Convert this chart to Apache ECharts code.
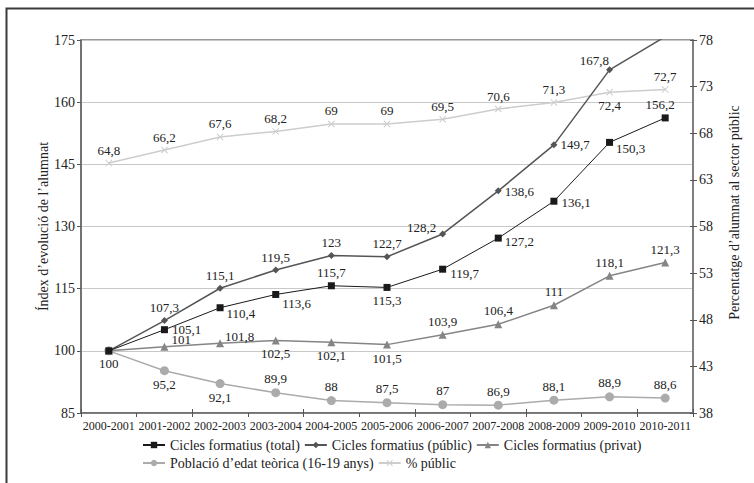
<!DOCTYPE html>
<html>
<head>
<meta charset="utf-8">
<script src="https://cdn.jsdelivr.net/npm/echarts@6/dist/echarts.min.js"></script>
<style>html,body{margin:0;padding:0;background:#fff;font-family:"Liberation Serif",serif;}#c{width:754px;height:483px;}</style>
</head>
<body>
<div id="c"></div>
<script>
const categories = ['2000-2001','2001-2002','2002-2003','2003-2004','2004-2005','2005-2006','2006-2007','2007-2008','2008-2009','2009-2010','2010-2011'];
const ciclesTotal   = [100, 105.1, 110.4, 113.6, 115.7, 115.3, 119.7, 127.2, 136.1, 150.3, 156.2];
const ciclesPublic  = [100, 107.3, 115.1, 119.5, 123, 122.7, 128.2, 138.6, 149.7, 167.8, 175.8];
const ciclesPrivat  = [100, 101, 101.8, 102.5, 102.1, 101.5, 103.9, 106.4, 111, 118.1, 121.3];
const poblacio      = [100, 95.2, 92.1, 89.9, 88, 87.5, 87, 86.9, 88.1, 88.9, 88.6];
const pctPublic     = [64.8, 66.2, 67.6, 68.2, 69, 69, 69.5, 70.6, 71.3, 72.4, 72.7];
const leftTicks  = {min: 85, max: 175, step: 15};
const rightTicks = {min: 38, max: 78, step: 5};

// label placement (styling, separate from data)
const lblTotal = [['bottom',0,0],['right',1,0],['right',0,6],['right',0,9],['top',0,0],['bottom',0,0],['right',1,4],['right',0,3],['right',1,1],['right',0,6],['top',-5,0]];
const lblPublic = [null,['top',0,0],['top',0,0],['top',0,0],['top',0,0],['top',0,0],['left',0,-6],['right',0,1],['right',0,0],['left',6,-9],null];
const lblPrivat = [null,['right',0,-7],['right',-2,-7],['bottom',0,0],['bottom',0,0],['bottom',0,0],['top',0,0],['top',0,0],['top',0,0],['top',0,0],['top',0,0]];
const lblPobl = [null,['bottom',0,0],['bottom',0,0],['top',0,0],['top',0,0],['top',0,0],['top',0,0],['top',0,0],['top',0,0],['top',0,0],['top',0,0]];
const lblPct = [['top',0,0],['top',0,0],['top',0,0],['top',0,0],['top',0,0],['top',0,0],['top',0,0],['top',0,0],['top',0,0],['bottom',0,0],['top',0,0]];

const FONT = 'Liberation Serif';
const fmt = v => String(v).replace('.', ',');

function mk(values, cfg) {
  return values.map((v, i) => {
    const c = cfg[i];
    if (!c) return {value: v, label: {show: false}};
    return {value: v, label: {show: true, position: c[0], offset: [c[1], c[2]]}};
  });
}

const labelBase = {show: true, fontFamily: FONT, fontSize: 13, color: '#222', distance: 3, formatter: p => fmt(p.value)};

function line(name, values, cfg, color, symbol, size, width, yIdx, z) {
  return {
    name, type: 'line', data: mk(values, cfg), yAxisIndex: yIdx, z,
    symbol, symbolSize: size, showSymbol: true,
    lineStyle: {color, width},
    itemStyle: {color, borderWidth: 0},
    label: labelBase,
    emphasis: {disabled: true},
    animation: false, clip: true
  };
}

const xCross = 'path://M0,1 L1,0 L5,4 L9,0 L10,1 L6,5 L10,9 L9,10 L5,6 L1,10 L0,9 L4,5 Z';
const legendNames = ['Cicles formatius (total)','Cicles formatius (públic)','Cicles formatius (privat)','Població d’edat teòrica (16-19 anys)','% públic'];

const chart = echarts.init(document.getElementById('c'), null, {renderer: 'svg'});
chart.setOption({
  backgroundColor: '#fff',
  animation: false,
  textStyle: {fontFamily: FONT},
  graphic: [{type: 'rect', shape: {x: 6.5, y: 8.5, width: 780, height: 500}, style: {fill: 'none', stroke: '#3a3a3a', lineWidth: 2}, silent: true, z: 100}],
  grid: {left: 81, right: 61, top: 40, bottom: 70, show: true, borderColor: '#777', borderWidth: 1.5, containLabel: false},
  legend: {
    show: true,
    left: 142, top: 438, width: 510, itemGap: 4, itemWidth: 22, itemHeight: 8,
    padding: 0,
    textStyle: {fontFamily: FONT, fontSize: 14, color: '#222'},
    data: legendNames
  },
  xAxis: [{
    type: 'category', data: categories, position: 'bottom', boundaryGap: true,
    axisLine: {lineStyle: {color: '#666', width: 1.5}},
    axisTick: {show: true, length: 4, lineStyle: {color: '#555'}},
    axisLabel: {fontFamily: FONT, fontSize: 12, color: '#222', margin: 7, interval: 0},
    splitLine: {show: false}
  }, {
    type: 'category', data: categories, position: 'bottom', boundaryGap: true,
    axisLine: {show: false},
    axisTick: {show: true, inside: true, length: 4, lineStyle: {color: '#555'}},
    axisLabel: {show: false}, splitLine: {show: false}
  }],
  yAxis: [{
    type: 'value', position: 'left', min: leftTicks.min, max: leftTicks.max, interval: leftTicks.step,
    name: 'Índex d’evolució de l’alumnat', nameLocation: 'middle', nameGap: 31, nameRotate: 90,
    nameMoveOverlap: false,
    nameTextStyle: {fontFamily: FONT, fontSize: 14, color: '#222'},
    axisLine: {show: true, lineStyle: {color: '#666', width: 1.5}},
    axisTick: {show: true, length: 4, lineStyle: {color: '#555'}},
    axisLabel: {fontFamily: FONT, fontSize: 14, color: '#222', margin: 6},
    splitLine: {show: true, lineStyle: {color: '#c8c8c8', width: 1}}
  }, {
    type: 'value', position: 'right', min: rightTicks.min, max: rightTicks.max, interval: rightTicks.step,
    name: 'Percentatge d’alumnat al sector públic', nameLocation: 'middle', nameGap: 34, nameRotate: 90,
    nameMoveOverlap: false,
    nameTextStyle: {fontFamily: FONT, fontSize: 14, color: '#222', padding: [0, 0, 0, 28]},
    axisLine: {show: true, lineStyle: {color: '#777', width: 1.5}},
    axisTick: {show: true, length: 4, lineStyle: {color: '#555'}},
    axisLabel: {fontFamily: FONT, fontSize: 14, color: '#222', margin: 6},
    splitLine: {show: false}
  }, {
    type: 'value', position: 'right', min: rightTicks.min, max: rightTicks.max, interval: rightTicks.step,
    axisLine: {show: false},
    axisTick: {show: true, inside: true, length: 3, lineStyle: {color: '#555'}},
    axisLabel: {show: false}, splitLine: {show: false}
  }],
  series: [
    line('% públic', pctPublic, lblPct, '#cdcdcd', xCross, 7, 1.5, 1, 2),
    line('Població d’edat teòrica (16-19 anys)', poblacio, lblPobl, '#ababab', 'circle', 9, 1.5, 0, 3),
    line('Cicles formatius (privat)', ciclesPrivat, lblPrivat, '#858585', 'triangle', 8, 1.5, 0, 4),
    line('Cicles formatius (públic)', ciclesPublic, lblPublic, '#555555', 'diamond', 7, 1.5, 0, 5),
    line('Cicles formatius (total)', ciclesTotal, lblTotal, '#1a1a1a', 'rect', 7, 1, 0, 6)
  ]
});
</script>
</body>
</html>
